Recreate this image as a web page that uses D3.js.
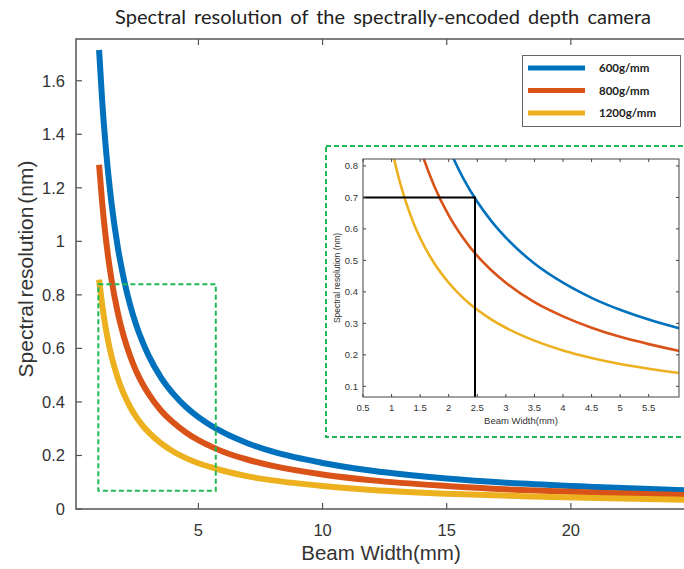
<!DOCTYPE html>
<html>
<head>
<meta charset="utf-8">
<script src="https://cdnjs.cloudflare.com/ajax/libs/d3/7.8.5/d3.min.js"></script>
<style>
  html, body { margin: 0; padding: 0; background: #fff; }
  svg { display: block; }
</style>
</head>
<body>
<svg id="chart" width="684" height="569"></svg>
<script>
// Beam widths (mm) at which the resolution was read
const beamWidths = [1, 1.125, 1.25, 1.375, 1.5, 1.75, 2, 2.25, 2.5, 2.75, 3, 3.5, 4, 4.5, 5, 5.5, 6, 7, 8, 10, 12, 15, 18, 21, 25];
// Spectral resolution (nm) for each grating
const res600 = [1.715, 1.524, 1.372, 1.247, 1.143, 0.980, 0.858, 0.762, 0.686, 0.624, 0.572, 0.490, 0.429, 0.381, 0.343, 0.312, 0.286, 0.245, 0.214, 0.172, 0.143, 0.114, 0.095, 0.082, 0.069];
const res800 = [1.286, 1.143, 1.029, 0.935, 0.857, 0.735, 0.643, 0.572, 0.514, 0.468, 0.429, 0.367, 0.322, 0.286, 0.257, 0.234, 0.214, 0.184, 0.161, 0.129, 0.107, 0.086, 0.071, 0.061, 0.051];
const res1200 = [0.857, 0.762, 0.686, 0.623, 0.571, 0.490, 0.429, 0.381, 0.343, 0.312, 0.286, 0.245, 0.214, 0.190, 0.171, 0.156, 0.143, 0.122, 0.107, 0.086, 0.071, 0.057, 0.048, 0.041, 0.034];
const seriesNames = ["600g/mm", "800g/mm", "1200g/mm"];
const seriesColors = ["#0072BD", "#D95319", "#EDB120"];

// Main axes ticks (labels) - the 25 mark sits past the visible right edge
const mainXTicks = [5, 10, 15, 20];
const mainYTicks = [0, 0.2, 0.4, 0.6, 0.8, 1, 1.2, 1.4, 1.6];
// Zoomed view ticks
const insetXTicks = [0.5, 1, 1.5, 2, 2.5, 3, 3.5, 4, 4.5, 5, 5.5];
const insetYTicks = [0.1, 0.2, 0.3, 0.4, 0.5, 0.6, 0.7, 0.8];
// Design point marked in the zoomed view
const markWidth = 2.46;
const markRes = 0.7;

const seriesValues = [res600, res800, res1200];
const series = seriesNames.map((name, i) => ({
  name, color: seriesColors[i],
  points: beamWidths.map((w, j) => [w, seriesValues[i][j]])
}));

const svg = d3.select("#chart");
const AXIS = "#555";
const TXT = "#333";
const SANS = "Liberation Sans, Arial, sans-serif";

// ---------- main plot ----------
const x = d3.scaleLinear().domain([0.07, 25]).range([76, 695]);
const y = d3.scaleLinear().domain([0, 1.756]).range([509, 39]);

const main = svg.append("g");
main.append("defs").append("clipPath").attr("id", "mainClip")
  .append("rect").attr("x", 76).attr("y", 39).attr("width", 619).attr("height", 470);

const line = d3.line().curve(d3.curveMonotoneX).x(d => x(d[0])).y(d => y(d[1]));
main.append("g").attr("clip-path", "url(#mainClip)")
  .selectAll("path").data(series).join("path")
  .attr("d", d => line(d.points))
  .attr("fill", "none").attr("stroke", d => d.color)
  .attr("stroke-width", 6).attr("stroke-linecap", "butt");

// box
main.append("path")
  .attr("d", `M${x.range()[0]},${y(0)}V${y.range()[1]}H${x.range()[1]}V${y(0)}Z`)
  .attr("fill", "none").attr("stroke", AXIS).attr("stroke-width", 1.5);

// ticks (inward) and labels
const mx = main.append("g").attr("font-family", SANS).attr("font-size", 16.5).attr("fill", TXT);
mainXTicks.forEach(t => {
  main.append("line").attr("x1", x(t)).attr("x2", x(t)).attr("y1", y(0)).attr("y2", y(0) - 6).attr("stroke", AXIS).attr("stroke-width", 1.2);
  main.append("line").attr("x1", x(t)).attr("x2", x(t)).attr("y1", 39).attr("y2", 45).attr("stroke", AXIS).attr("stroke-width", 1.2);
  mx.append("text").attr("x", x(t)).attr("y", 536).attr("text-anchor", "middle").text(t);
});
mainYTicks.forEach(t => {
  main.append("line").attr("x1", 76).attr("x2", 82).attr("y1", y(t)).attr("y2", y(t)).attr("stroke", AXIS).attr("stroke-width", 1.2);
  mx.append("text").attr("x", 65).attr("y", y(t) + 6).attr("text-anchor", "end").text(d3.format("~g")(t));
});

main.append("text").attr("x", 381).attr("y", 560).attr("text-anchor", "middle")
  .attr("font-family", SANS).attr("font-size", 20.5).attr("fill", TXT)
  .text("Beam Width(mm)");
main.append("text").attr("transform", "translate(33,269) rotate(-90)").attr("text-anchor", "middle")
  .attr("font-family", SANS).attr("font-size", 21).attr("fill", TXT)
  .attr("word-spacing", -3)
  .text("Spectral resolution (nm)");

// title
svg.append("text").attr("x", 383).attr("y", 24).attr("text-anchor", "middle")
  .attr("font-family", "Lato, 'Open Sans', sans-serif").attr("font-size", 20).attr("fill", "#222")
  .attr("word-spacing", 3)
  .text("Spectral resolution of the spectrally-encoded depth camera");

// zoom region on main plot
const zoomBox = { x0: 0.97, x1: 5.7, y0: 0.068, y1: 0.84 };
main.append("rect")
  .attr("x", x(zoomBox.x0)).attr("y", y(zoomBox.y1))
  .attr("width", x(zoomBox.x1) - x(zoomBox.x0)).attr("height", y(zoomBox.y0) - y(zoomBox.y1))
  .attr("fill", "none").attr("stroke", "#1DB954").attr("stroke-width", 2).attr("stroke-dasharray", "5,3");

// legend
const lg = svg.append("g");
lg.append("rect").attr("x", 522.5).attr("y", 55.5).attr("width", 158).attr("height", 71)
  .attr("fill", "#fff").attr("stroke", "#666").attr("stroke-width", 1);
series.forEach((s, i) => {
  const ly = 68 + i * 22.5;
  lg.append("line").attr("x1", 528).attr("x2", 585).attr("y1", ly).attr("y2", ly)
    .attr("stroke", s.color).attr("stroke-width", 5);
  lg.append("text").attr("x", 599).attr("y", ly + 4).attr("font-family", "Lato, 'Open Sans', sans-serif")
    .attr("font-size", 11.5).attr("font-weight", "bold").attr("fill", "#222").text(s.name);
});

// ---------- zoomed view ----------
const ins = svg.append("g");
ins.append("rect").attr("x", 326).attr("y", 146).attr("width", 380).attr("height", 291)
  .attr("fill", "#fff").attr("stroke", "#1DB954").attr("stroke-width", 2).attr("stroke-dasharray", "5,3");

const xi = d3.scaleLinear().domain([0.5, 6.03]).range([363, 679]);
const yi = d3.scaleLinear().domain([0.066, 0.822]).range([397, 159]);
ins.append("defs").append("clipPath").attr("id", "insClip")
  .append("rect").attr("x", 363).attr("y", 159).attr("width", 316).attr("height", 238);

const lineI = d3.line().curve(d3.curveMonotoneX).x(d => xi(d[0])).y(d => yi(d[1]));
const ig = ins.append("g").attr("clip-path", "url(#insClip)");
ig.selectAll("path").data(series).join("path")
  .attr("d", d => lineI(d.points))
  .attr("fill", "none").attr("stroke", d => d.color).attr("stroke-width", 2.6);
ig.append("path")
  .attr("d", `M${xi.range()[0]},${yi(markRes)}H${xi(markWidth)}V${yi.range()[0]}`)
  .attr("fill", "none").attr("stroke", "#000").attr("stroke-width", 2);

ins.append("rect").attr("x", 363).attr("y", 159).attr("width", 316).attr("height", 238)
  .attr("fill", "none").attr("stroke", "#444").attr("stroke-width", 1);

const it = ins.append("g").attr("font-family", SANS).attr("font-size", 9.5).attr("fill", TXT);
insetXTicks.forEach(t => {
  ins.append("line").attr("x1", xi(t)).attr("x2", xi(t)).attr("y1", 397).attr("y2", 394).attr("stroke", "#444");
  ins.append("line").attr("x1", xi(t)).attr("x2", xi(t)).attr("y1", 159).attr("y2", 162).attr("stroke", "#444");
  it.append("text").attr("x", xi(t)).attr("y", 411).attr("text-anchor", "middle").text(t);
});
insetYTicks.forEach(t => {
  ins.append("line").attr("x1", 363).attr("x2", 366).attr("y1", yi(t)).attr("y2", yi(t)).attr("stroke", "#444");
  ins.append("line").attr("x1", 679).attr("x2", 676).attr("y1", yi(t)).attr("y2", yi(t)).attr("stroke", "#444");
  it.append("text").attr("x", 358).attr("y", yi(t) + 3.5).attr("text-anchor", "end").text(t);
});
ins.append("text").attr("x", 521).attr("y", 424).attr("text-anchor", "middle")
  .attr("font-family", SANS).attr("font-size", 9.5).attr("fill", TXT)
  .text("Beam Width(mm)");
ins.append("text").attr("transform", "translate(340,278) rotate(-90)").attr("text-anchor", "middle")
  .attr("font-family", SANS).attr("font-size", 8.5).attr("fill", TXT)
  .text("Spectral resolution (nm)");
</script>
</body>
</html>
